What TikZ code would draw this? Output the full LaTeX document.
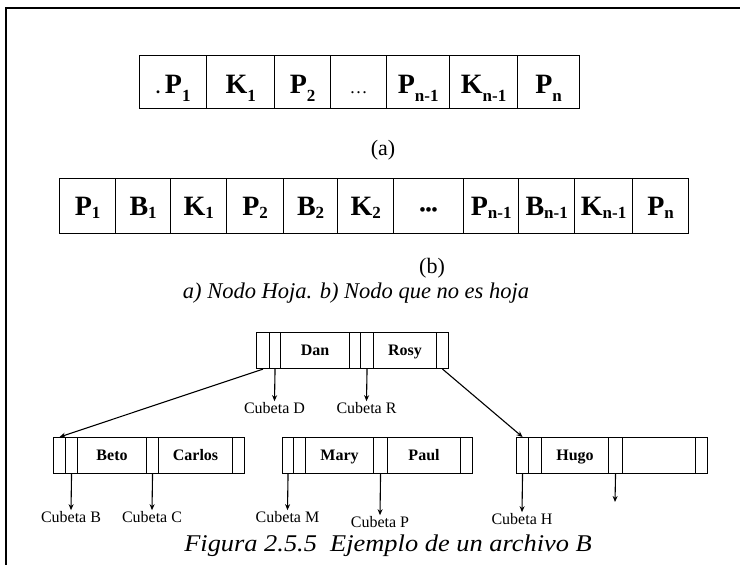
\documentclass[tikz,border=0pt]{standalone}
\usepackage{fontspec}
\setmainfont{Liberation Serif}
\usetikzlibrary{arrows.meta}
\newcommand\sba[1]{\raisebox{-8pt}{\fontsize{17}{17}\selectfont #1}}
\newcommand\sbb[1]{\raisebox{-3pt}{\fontsize{17}{17}\selectfont #1}}
\begin{document}
\begin{tikzpicture}[x=1pt,y=-1pt,
  bigcell/.style={draw, line width=1.3pt, inner sep=0pt, anchor=north west,
    text depth=0pt, font=\fontsize{28}{28}\selectfont\bfseries},
  acell/.style={bigcell, minimum height=53pt, text height=22pt},
  bcell/.style={bigcell, minimum height=55pt, text height=19pt},
  tcell/.style={draw, line width=1.1pt, inner sep=0pt, anchor=north west,
    minimum height=36pt, text height=10pt, text depth=0pt,
    font=\fontsize{16}{16}\selectfont\bfseries},
  lbl/.style={font=\fontsize{22}{22}\selectfont},
  captext/.style={font=\fontsize{22.5}{22.5}\selectfont\itshape},
  cub/.style={font=\fontsize{16}{16}\selectfont, inner sep=1pt},
  arr/.style={line width=1.1pt, -{Stealth[length=6pt,width=5pt]}}
]
\useasboundingbox (0,0) rectangle (740,565);
\draw[line width=2pt] (6,565) -- (6,7.5) -- (740,7.5);

% row (a)
\node[acell, minimum width=67pt] (a1) at (139,55) {{\fontsize{18}{18}\selectfont.}\,P\sba{1}};
\node[acell, minimum width=68pt] (a2) at (206,55) {K\sba{1}};
\node[acell, minimum width=56pt] (a3) at (274,55) {P\sba{2}};
\node[acell, minimum width=56pt, font=\fontsize{18}{18}\selectfont] (a4) at (330,55) {\dots};
\node[acell, minimum width=63pt] (a5) at (386,55) {P\sba{n-1}};
\node[acell, minimum width=68pt] (a6) at (449,55) {K\sba{n-1}};
\node[acell, minimum width=62pt] (a7) at (517,55) {P\sba{n}};
\node[lbl] (la) at (383,150) {(a)};

% row (b)
\node[bcell, minimum width=56pt] (b1) at (59,178) {P\sbb{1}};
\node[bcell, minimum width=55pt] (b2) at (115,178) {B\sbb{1}};
\node[bcell, minimum width=56pt] (b3) at (170,178) {K\sbb{1}};
\node[bcell, minimum width=57pt] (b4) at (226,178) {P\sbb{2}};
\node[bcell, minimum width=54pt] (b5) at (283,178) {B\sbb{2}};
\node[bcell, minimum width=56pt] (b6) at (337,178) {K\sbb{2}};
\node[bcell, minimum width=70pt, font=\fontsize{17}{17}\selectfont\bfseries] (b7) at (393,178) {\textbullet\textbullet\textbullet};
\node[bcell, minimum width=55pt] (b8) at (463,178) {P\sbb{n-1}};
\node[bcell, minimum width=56pt] (b9) at (518,178) {B\sbb{n-1}};
\node[bcell, minimum width=58pt] (b10) at (574,178) {K\sbb{n-1}};
\node[bcell, minimum width=56pt] (b11) at (632,178) {P\sbb{n}};
\node[lbl] (lb) at (432,268) {(b)};
\node[captext] (capa) at (356,293) {a) Nodo Hoja. b) Nodo que no es hoja};

% root node
\node[tcell, minimum width=13pt] (r1) at (256,332) {};
\node[tcell, minimum width=11pt] (r2) at (269,332) {};
\node[tcell, minimum width=69pt] (rDan) at (280,332) {Dan};
\node[tcell, minimum width=11pt] (r4) at (349,332) {};
\node[tcell, minimum width=13pt] (r5) at (360,332) {};
\node[tcell, minimum width=63pt] (rRosy) at (373,332) {Rosy};
\node[tcell, minimum width=12pt] (r7) at (436,332) {};

% Beto node
\node[tcell, minimum width=12pt] (n1) at (53,437) {};
\node[tcell, minimum width=12pt] (n2) at (65,437) {};
\node[tcell, minimum width=69pt] (nBeto) at (77,437) {Beto};
\node[tcell, minimum width=12pt] (n4) at (146,437) {};
\node[tcell, minimum width=74pt] (nCarlos) at (158,437) {Carlos};
\node[tcell, minimum width=12pt] (n6) at (232,437) {};

% Mary node
\node[tcell, minimum width=11pt] (m1) at (282,437) {};
\node[tcell, minimum width=12pt] (m2) at (293,437) {};
\node[tcell, minimum width=68pt] (mMary) at (305,437) {Mary};
\node[tcell, minimum width=14pt] (m4) at (373,437) {};
\node[tcell, minimum width=73pt] (mPaul) at (387,437) {Paul};
\node[tcell, minimum width=12pt] (m6) at (460,437) {};

% Hugo node
\node[tcell, minimum width=12pt] (h1) at (516,437) {};
\node[tcell, minimum width=13pt] (h2) at (528,437) {};
\node[tcell, minimum width=67pt] (hHugo) at (541,437) {Hugo};
\node[tcell, minimum width=14pt] (h4) at (608,437) {};
\node[tcell, minimum width=73pt] (hE) at (622,437) {};
\node[tcell, minimum width=12pt] (h6) at (695,437) {};

% bucket labels
\node[cub] (cD) at (274.5,408) {Cubeta D};
\node[cub] (cR) at (366.5,408) {Cubeta R};
\node[cub] (cB) at (71,517) {Cubeta B};
\node[cub] (cC) at (152,517) {Cubeta C};
\node[cub] (cM) at (287.5,517) {Cubeta M};
\node[cub] (cP) at (380,522) {Cubeta P};
\node[cub] (cH) at (522,519) {Cubeta H};
\coordinate (hx) at (615,502);

% connectors
\draw[arr] (r1.south) -- (n1.north);
\draw[arr] (r7.south) -- (h1.north);
\draw[arr] (r2.south) -- (cD.north);
\draw[arr] (r5.south) -- (cR.north);
\draw[arr] (n2.south) -- (cB.north);
\draw[arr] (n4.south) -- (cC.north);
\draw[arr] (m1.south) -- (cM.north);
\draw[arr] (m4.south) -- (cP.north);
\draw[arr] (h1.south) -- (cH.north);
\draw[arr] (h4.south) -- (hx);

\node[captext] (capf) at (388,546) {\scalebox{1.1}[1]{\fontsize{24}{24}\selectfont Figura 2.5.5\ \ Ejemplo de un archivo B}};
\end{tikzpicture}
\end{document}
